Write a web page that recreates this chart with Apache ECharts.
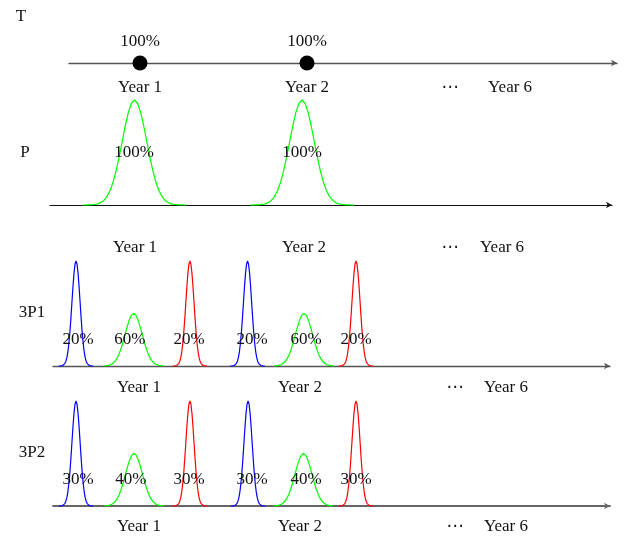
<!DOCTYPE html>
<html><head><meta charset="utf-8">
<script src="https://cdn.jsdelivr.net/npm/echarts@6/dist/echarts.min.js"></script>
<style>html,body{margin:0;padding:0;background:#fff}#c{width:624px;height:537px}</style>
</head><body><div id="c"></div>
<script>
// ---------------- DATA ----------------
const tickLabels = ['Year 1', 'Year 2', '\u22ef', 'Year 6'];
const tTickPos  = [1, 2, 2.856, 3.216];
const pTickPos  = [1.003, 2.009, 2.878, 3.188];
const p3TickPos = [1.029, 1.976, 2.888, 3.188];

// T : point payments
const tYears = [1, 2];
const tPct   = [100, 100];

// P : one bell per year
const pCenters = [1.0, 1.997];
const pSigma   = [0.073, 0.073];
const pPeak    = [1, 1];
const pReach   = [4.25, 4.25];
const pPct     = [100, 100];
const pLabelX  = [0.997, 1.997];

// 3P1
const a3Centers = [0.659, 0.998, 1.329, 1.668, 2.0, 2.306];
const a3Sigma   = [0.024, 0.05, 0.024, 0.024, 0.05, 0.024];
const a3Peak    = [1, 0.5, 1, 1, 0.5, 1];
const a3Reach   = [4.25, 3.5, 4.25, 4.25, 3.5, 4.25];
const a3Pct     = [20, 60, 20, 20, 60, 20];
const a3LabelX  = [0.671, 0.976, 1.324, 1.694, 2.012, 2.306];

// 3P2
const b3Centers = [0.659, 1.0, 1.329, 1.671, 1.997, 2.306];
const b3Sigma   = [0.024, 0.05, 0.024, 0.024, 0.05, 0.024];
const b3Peak    = [1, 0.5, 1, 1, 0.5, 1];
const b3Reach   = [4.25, 3.5, 4.25, 4.25, 3.5, 4.25];
const b3Pct     = [30, 40, 30, 30, 40, 30];
const b3LabelX  = [0.671, 0.982, 1.324, 1.694, 2.012, 2.306];

const threeColors = ['#0000ff', '#00ff00', '#ff0000', '#0000ff', '#00ff00', '#ff0000'];

// bell profile (offset in sigma, relative height) - half, mirrored
const bellT = [0, 0.25, 0.5, 0.75, 1, 1.25, 1.5, 1.75, 2, 2.25, 2.5, 2.75, 3, 3.25, 3.5, 3.75, 4, 4.25];
const bellV = [1, 0.9692, 0.8825, 0.7548, 0.6065, 0.4578, 0.3247, 0.2163, 0.1353, 0.0796, 0.0439, 0.0228, 0.0111, 0.0051, 0.0022, 0.0009, 0.0003, 0.0001];

// ---------------- LAYOUT ----------------
const FONT = '"Liberation Serif", "DejaVu Serif", "DejaVu Sans"';
const TXT = '#111';
const panels = [
  {axisY: 63,  h: 33,  start: 69, end: 617, x0: 140,   k: 167, margin: 16, ticks: tTickPos,  line: {color: '#555', width: 1.3}},
  {axisY: 205, h: 105, start: 50, end: 612, x0: 134.5, k: 168, margin: 34, ticks: pTickPos,  line: {color: '#111', width: 1.2}},
  {axisY: 366, h: 105, start: 53, end: 610, x0: 134,   k: 170, margin: 13, ticks: p3TickPos, line: {color: '#555', width: 1.3}},
  {axisY: 506, h: 105, start: 53, end: 610, x0: 134,   k: 170, margin: 12, ticks: p3TickPos, line: {color: '#666', width: 1.8}}
];

function bellPoints(c, s, h, reach) {
  const pts = [];
  for (let i = bellT.length - 1; i > 0; i--) if (bellT[i] <= reach) pts.push([c - bellT[i] * s, h * bellV[i]]);
  for (let i = 0; i < bellT.length; i++) if (bellT[i] <= reach) pts.push([c + bellT[i] * s, h * bellV[i]]);
  return pts;
}

const grids = [], xAxes = [], yAxes = [], series = [];
panels.forEach((p, i) => {
  grids.push({left: p.start, width: p.end - p.start, top: p.axisY - p.h, height: p.h, containLabel: false});
  const ticks = p.ticks;
  xAxes.push({
    type: 'value', gridIndex: i,
    min: 1 + (p.start - p.x0) / p.k, max: 1 + (p.end - p.x0) / p.k,
    axisLine: {show: true, onZero: false, symbol: ['none', 'arrow'], symbolSize: [5, 6], lineStyle: p.line},
    axisTick: {show: false}, splitLine: {show: false},
    axisLabel: {
      show: true, customValues: ticks, margin: p.margin,
      fontFamily: FONT, fontSize: 17, color: TXT,
      formatter: function (v) {
        let best = 0;
        ticks.forEach((t, j) => { if (Math.abs(t - v) < Math.abs(ticks[best] - v)) best = j; });
        return tickLabels[best];
      }
    }
  });
  yAxes.push({type: 'value', gridIndex: i, min: 0, max: 1, show: false});
});

// T panel dots
series.push({
  type: 'scatter', xAxisIndex: 0, yAxisIndex: 0, clip: false, silent: true,
  symbol: 'circle', symbolSize: 15, itemStyle: {color: '#000', opacity: 1},
  data: tYears.map((x, i) => [x, 0, tPct[i]]),
  label: {show: true, position: 'top', distance: 5, fontFamily: FONT, fontSize: 17, color: TXT, opacity: 1,
          formatter: p => p.value[2] + '%'}
});

function addBells(ax, centers, sigma, peak, reach, colors) {
  centers.forEach((c, i) => {
    series.push({
      type: 'line', xAxisIndex: ax, yAxisIndex: ax, showSymbol: false, clip: false, silent: true,
      lineStyle: {color: colors[i], width: 1.2}, z: 3,
      data: bellPoints(c, sigma[i], peak[i], reach[i])
    });
  });
}
function addLabels(ax, xs, y, pct) {
  series.push({
    type: 'scatter', xAxisIndex: ax, yAxisIndex: ax, symbolSize: 0, clip: false, silent: true, z: 5,
    itemStyle: {opacity: 1},
    data: xs.map((x, i) => [x, y, pct[i]]),
    label: {show: true, position: 'inside', fontFamily: FONT, fontSize: 17, color: TXT, opacity: 1,
            formatter: p => p.value[2] + '%'}
  });
}
addBells(1, pCenters, pSigma, pPeak, pReach, ['#00ff00', '#00ff00']);
addLabels(1, pLabelX, 0.5, pPct);
addBells(2, a3Centers, a3Sigma, a3Peak, a3Reach, threeColors);
addLabels(2, a3LabelX, 0.25, a3Pct);
addBells(3, b3Centers, b3Sigma, b3Peak, b3Reach, threeColors);
addLabels(3, b3LabelX, 0.25, b3Pct);

const rowNames = [
  {text: 'T',   x: 21, y: 17},
  {text: 'P',   x: 25, y: 153},
  {text: '3P1', x: 32, y: 313},
  {text: '3P2', x: 32, y: 453}
];

const chart = echarts.init(document.getElementById('c'), null, {renderer: 'canvas'});
chart.setOption({
  animation: false,
  backgroundColor: '#fff',
  grid: grids, xAxis: xAxes, yAxis: yAxes, series: series,
  graphic: rowNames.map(r => ({
    type: 'text', x: r.x, y: r.y, silent: true,
    style: {text: r.text, fill: TXT, font: '17px "Liberation Serif"', align: 'center', verticalAlign: 'middle',
            textAlign: 'center', textVerticalAlign: 'middle'}
  }))
});
</script>
</body></html>
